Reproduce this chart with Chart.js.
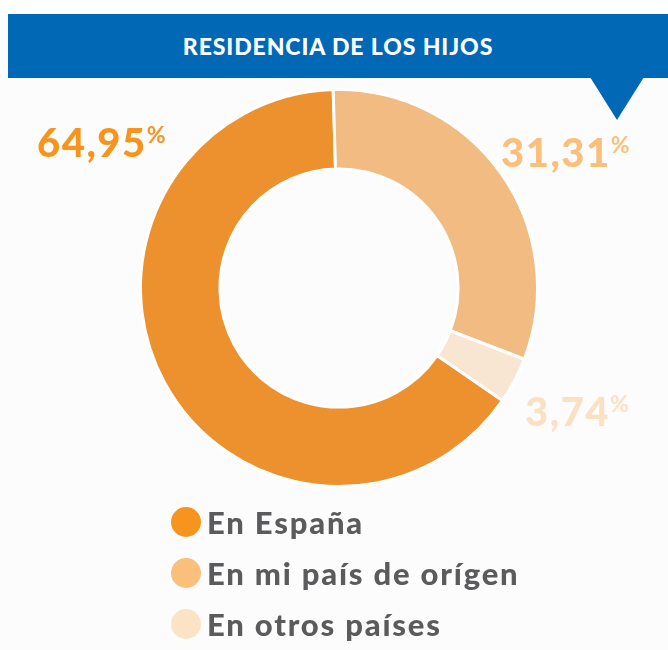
<!DOCTYPE html>
<html>
<head>
<meta charset="utf-8">
<script src="https://cdn.jsdelivr.net/npm/chart.js@4/dist/chart.umd.min.js"></script>
<style>
  body { margin: 0; width: 668px; height: 650px; background: #fcfcfc; position: relative; overflow: hidden; font-family: Lato, "Open Sans", sans-serif; }
  .top { position: absolute; left: 0; top: 0; width: 668px; height: 14px; background: #fff; }
  .header { position: absolute; left: 8px; top: 14px; width: 660px; height: 64px; background: #0068b5;
    color: #fff; font-weight: 900; font-size: 23px; text-align: center; line-height: 64px; letter-spacing: 0.9px; }
  .pointer { position: absolute; left: 590px; top: 77px; width: 0; height: 0;
    border-left: 27px solid transparent; border-right: 27px solid transparent; border-top: 43px solid #0068b5; }
  .chartBox { position: absolute; left: 0; top: 78px; width: 668px; height: 420px; }
  .legend { position: absolute; left: 171px; top: 496px; }
  .legend div { height: 51px; display: flex; align-items: center; font-size: 31px; font-weight: 900; color: #5b5b5d; letter-spacing: 1.8px; }
  .legend span { display: inline-block; width: 30px; height: 30px; border-radius: 50%; margin-right: 6px; }
</style>
</head>
<body>
<div class="top"></div>
<div class="header">RESIDENCIA DE LOS HIJOS</div>
<div class="pointer"></div>
<div class="chartBox"><canvas id="residenciaChart"></canvas></div>
<div class="legend" id="legend"></div>
<script>
const categories = ["En España", "En mi país de orígen", "En otros países"];
const percentages = [64.95, 31.31, 3.74];
const sliceColors = ["#ec912d", "#f2bb81", "#f8e5d2"];
const dotColors = ["#f7941d", "#f9bf7b", "#fbe3c6"];
const labelColors = ["#f7941d", "#f9bf7b", "#fbe1c2"];

// label anchor offsets from the donut centre (left edge, baseline)
const labelOffsets = [[-302, -131], [162, -121], [186, 138]];

const formatPct = (v) => v.toFixed(2).replace(".", ",");

const legendEl = document.getElementById("legend");
categories.forEach((name, i) => {
    const row = document.createElement("div");
    const dot = document.createElement("span");
    dot.style.background = dotColors[i];
    row.appendChild(dot);
    row.appendChild(document.createTextNode(name));
    legendEl.appendChild(row);
});

const percentLabels = {
    id: "percentLabels",
    afterDraw(chart) {
        const ctx = chart.ctx;
        const arc = chart.getDatasetMeta(0).data[0];
        ctx.save();
        ctx.textAlign = "left";
        ctx.textBaseline = "alphabetic";
        percentages.forEach((v, i) => {
            const x = arc.x + labelOffsets[i][0];
            const y = arc.y + labelOffsets[i][1];
            ctx.fillStyle = labelColors[i];
            ctx.font = "900 40px Lato";
            ctx.letterSpacing = "1.5px";
            const txt = formatPct(v);
            ctx.fillText(txt, x, y);
            const w = ctx.measureText(txt).width;
            ctx.letterSpacing = "0px";
            ctx.font = "700 23px Lato";
            ctx.fillText("%", x + w, y - 14);
        });
        ctx.restore();
    }
};

new Chart(document.getElementById("residenciaChart"), {
    type: "doughnut",
    data: {
        labels: categories,
        datasets: [{
            data: percentages,
            backgroundColor: sliceColors,
            borderColor: "#ffffff",
            borderWidth: 3,
            hoverOffset: 0,
        }],
    },
    options: {
        responsive: true,
        maintainAspectRatio: false,
        animation: false,
        rotation: 124.5,
        cutout: "60%",
        layout: { padding: { left: 138, right: 128, top: 10, bottom: 10 } },
        plugins: {
            legend: { display: false },
            tooltip: { enabled: false },
            title: { display: false },
        },
    },
    plugins: [percentLabels],
});
</script>
</body>
</html>
